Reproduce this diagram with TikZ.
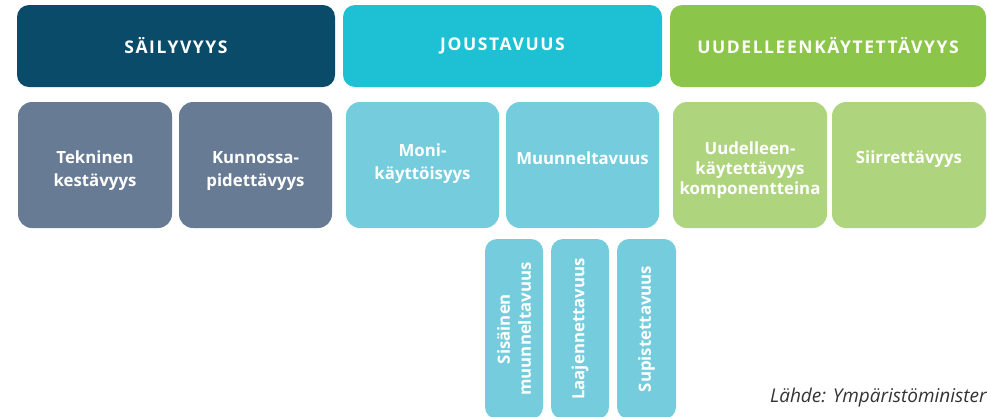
\documentclass[tikz,border=0pt]{standalone}
\usepackage{fontspec}
\setmainfont{Open Sans}
\newfontfamily\hdrfont[LetterSpace=9]{Open Sans}
\definecolor{cdark}{HTML}{0A4B6A}
\definecolor{ccyan}{HTML}{1EC0D4}
\definecolor{cgreen}{HTML}{8BC64A}
\definecolor{cslate}{HTML}{677B95}
\definecolor{clcyan}{HTML}{74CCDC}
\definecolor{clgreen}{HTML}{AED47E}
\definecolor{csrc}{HTML}{333333}
\tikzset{
  hdrbox/.style={rounded corners=12pt, minimum height=82pt, inner sep=0pt, text=white,
    font=\hdrfont\bfseries\fontsize{17.5}{20}\selectfont},
  subbox/.style={rounded corners=14pt, minimum height=126pt, inner sep=0pt},
  vbox/.style={rounded corners=12pt, minimum height=180pt, inner sep=0pt, fill=clcyan},
  lbl/.style={text=white, align=center, inner sep=0pt, font=\bfseries\fontsize{16.8}{23}\selectfont},
  vlbl/.style={text=white, align=center, inner sep=0pt, rotate=90, font=\bfseries\fontsize{16.8}{21}\selectfont}
}
\begin{document}
\begin{tikzpicture}[x=1pt,y=-1pt]
\useasboundingbox (0,0) rectangle (987,416);
\clip (0,0) rectangle (987,416);
% headers
\node[hdrbox, fill=cdark, minimum width=318pt] (sail) at (176,46) {SÄILYVYYS};
\node[hdrbox, fill=ccyan, minimum width=319pt] (jous) at (502.5,46) {JOUSTAVUUS};
\node[hdrbox, fill=cgreen, minimum width=316pt] (uude) at (828,46) {UUDELLEENKÄYTETTÄVYYS};
% second row
\node[subbox, fill=cslate, minimum width=154pt] (b1) at (95,165) {};
\node[subbox, fill=cslate, minimum width=153pt] (b2) at (255.5,165) {};
\node[subbox, fill=clcyan, minimum width=153pt] (b3) at (422.5,165) {};
\node[subbox, fill=clcyan, minimum width=153pt] (b4) at (582.5,165) {};
\node[subbox, fill=clgreen, minimum width=154pt] (b5) at (750,165) {};
\node[subbox, fill=clgreen, minimum width=154pt] (b6) at (909,165) {};
\node[lbl] (t1) at ([yshift=-6pt]b1.center) {Tekninen\\kestävyys};
\node[lbl] (t2) at ([yshift=-6pt]b2.center) {Kunnossa-\\pidettävyys};
\node[lbl] (t3) at ([yshift=1pt]b3.center) {Moni-\\käyttöisyys};
\node[lbl] (t4) at ([yshift=7pt]b4.center) {Muunneltavuus};
\node[lbl, font=\bfseries\fontsize{16.8}{20}\selectfont] (t5) at ([yshift=-5pt]b5.center) {Uudelleen-\\käytettävyys\\komponentteina};
\node[lbl] (t6) at ([yshift=6pt]b6.center) {Siirrettävyys};
% third row
\node[vbox, minimum width=58pt] (v1) at (514,329) {};
\node[vbox, minimum width=58pt] (v2) at (580,329) {};
\node[vbox, minimum width=59pt] (v3) at (646.5,329) {};
\node[vlbl] (w1) at (v1.center) {Sisäinen\\muunneltavuus};
\node[vlbl] (w2) at (v2.center) {Laajennettavuus};
\node[vlbl] (w3) at (v3.center) {Supistettavuus};
% source (cut at the right edge, as in the reference)
\node[anchor=base west, inner sep=0pt, text=csrc, font=\itshape\fontsize{19}{22}\selectfont] (src) at (770,402) {Lähde: Ympäristöministeriö};
\end{tikzpicture}
\end{document}
